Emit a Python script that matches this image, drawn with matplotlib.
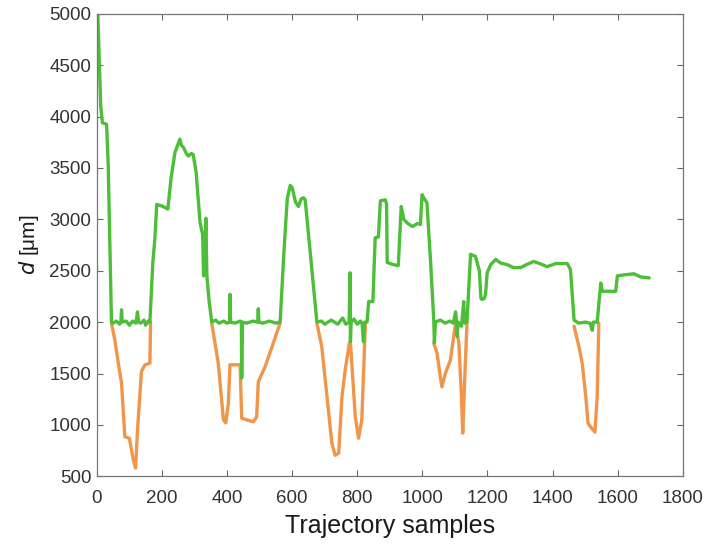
import numpy as np
import matplotlib.pyplot as plt

# green trace (waypoints)
green_x = [3, 8, 12, 17, 30, 35, 45,
           50, 60, 70, 74, 76, 78, 90, 100, 110, 120, 125, 128, 135, 145, 150, 158, 163,
           172, 178, 184, 200, 218, 228, 240, 255, 260, 266, 275, 281, 290, 296, 305, 317,
           325, 328, 333, 335, 338, 345, 353,
           365, 375, 390, 400, 408, 409, 411, 425, 440, 444, 445, 447, 460, 480, 494, 496, 498,
           510, 530, 550, 563,
           575, 585, 594, 600, 610, 619, 628, 635, 640, 658, 676,
           690, 700, 720, 740, 755, 765, 775, 778, 779, 781, 790, 800, 810, 815, 819, 822, 830,
           835, 848, 855, 865, 871, 886, 890, 892, 910, 926, 935, 943, 955, 970, 985, 994,
           999, 1006, 1014, 1025, 1035, 1037, 1040, 1055, 1070, 1085, 1095, 1102, 1105, 1107,
           1110, 1120, 1127, 1130, 1137, 1148, 1163, 1175, 1180, 1183, 1190, 1194, 1199, 1210,
           1225, 1240, 1260, 1280, 1302, 1320, 1342, 1360, 1383, 1410, 1445, 1455, 1466, 1480,
           1500, 1515, 1522, 1525, 1537, 1548, 1553, 1594, 1599, 1620, 1650, 1670, 1697]
green_y = [5000, 4500, 4100, 3940, 3925, 3520, 2000,
           1990, 2010, 1980, 2010, 2120, 2000, 2010, 1970, 2010, 1990, 2100, 2000, 1990, 2020, 1970, 2010, 2000,
           2580, 2800, 3145, 3130, 3100, 3400, 3650, 3780, 3720, 3700, 3640, 3615, 3640, 3630, 3460, 2970,
           2850, 2450, 2800, 3010, 2450, 2200, 2000,
           2020, 1990, 2010, 1990, 2000, 2270, 2000, 1990, 2010, 2000, 1457, 2000, 1990, 2010, 2000, 2130, 2000,
           1990, 2010, 1990, 2000,
           2700, 3200, 3330, 3310, 3170, 3125, 3200, 3210, 3190, 2600, 2000,
           2010, 1980, 2020, 1980, 2040, 1980, 2000, 2480, 1810, 2000, 2030, 1980, 2010, 1980, 1810, 2000, 2000,
           2200, 2200, 2820, 2830, 3180, 3190, 3150, 2580, 2560, 2550, 3125, 3000, 2960, 2930, 2960, 2950,
           3240, 3200, 3160, 2600, 2020, 1800, 2000, 2020, 1990, 2010, 1990, 2100, 2000, 1860,
           2000, 1960, 2200, 1990, 2000, 2660, 2640, 2500, 2230, 2220, 2230, 2270, 2480, 2560,
           2610, 2575, 2560, 2530, 2530, 2560, 2590, 2570, 2540, 2570, 2570, 2510, 2020, 1990,
           2000, 1990, 1920, 2000, 2000, 2380, 2300, 2300, 2450, 2460, 2470, 2440, 2430]

# orange trace, only where it drops below the 2000 line
orange_segments = [
    ([45, 55, 66, 76, 86, 100, 112, 119, 125, 137, 148, 163, 165],
     [1990, 1830, 1600, 1405, 885, 870, 660, 580, 950, 1520, 1585, 1600, 2000]),
    ([353, 373, 389, 396, 404, 409, 440, 445, 460, 481, 491, 496, 517, 537, 563],
     [1990, 1600, 1050, 1020, 1210, 1585, 1585, 1065, 1050, 1030, 1080, 1420, 1567, 1750, 1990]),
    ([676, 691, 707, 722, 732, 743, 753, 763, 776, 779, 794, 804, 814, 825],
     [1990, 1760, 1275, 820, 705, 725, 1275, 1535, 1800, 1800, 1080, 870, 1050, 1990]),
    ([1035, 1045, 1055, 1060, 1071, 1086, 1102, 1112, 1120, 1124, 1130, 1137],
     [1795, 1700, 1470, 1370, 1505, 1630, 1990, 1800, 1275, 920, 1440, 1990]),
    ([1466, 1481, 1491, 1502, 1509, 1517, 1530, 1537, 1542],
     [1960, 1760, 1600, 1275, 1015, 980, 930, 1275, 1990]),
]

plt.rcParams['font.family'] = ['Liberation Sans', 'DejaVu Sans']

fig = plt.figure(figsize=(7.12, 5.5), dpi=100)
ax = fig.add_axes([0.136, 0.134, 0.823, 0.841])

for sx, sy in orange_segments:
    ax.plot(sx, sy, color='#F0964A', lw=2.4, solid_joinstyle='round', solid_capstyle='round')
ax.plot(green_x, green_y, color='#4DBE38', lw=2.4, solid_joinstyle='round', solid_capstyle='round')

ax.set_xlim(0, 1800)
ax.set_ylim(500, 5000)
ax.set_xticks(np.arange(0, 1801, 200))
ax.set_yticks(np.arange(500, 5001, 500))
ax.tick_params(direction='in', top=True, right=True, length=4, labelsize=13.5,
               labelcolor='#333333', color='#666666', width=0.8)
ax.tick_params(axis='x', pad=10)
ax.tick_params(axis='y', pad=4)
for s in ax.spines.values():
    s.set_color('#777777')
    s.set_linewidth(0.9)

ax.set_xlabel('Trajectory samples', fontsize=18, color='#1a1a1a', labelpad=5)
ax.set_ylabel(r'$d$ [μm]', fontsize=15, color='#1a1a1a', labelpad=6)

fig.savefig('out.png', dpi=100)
